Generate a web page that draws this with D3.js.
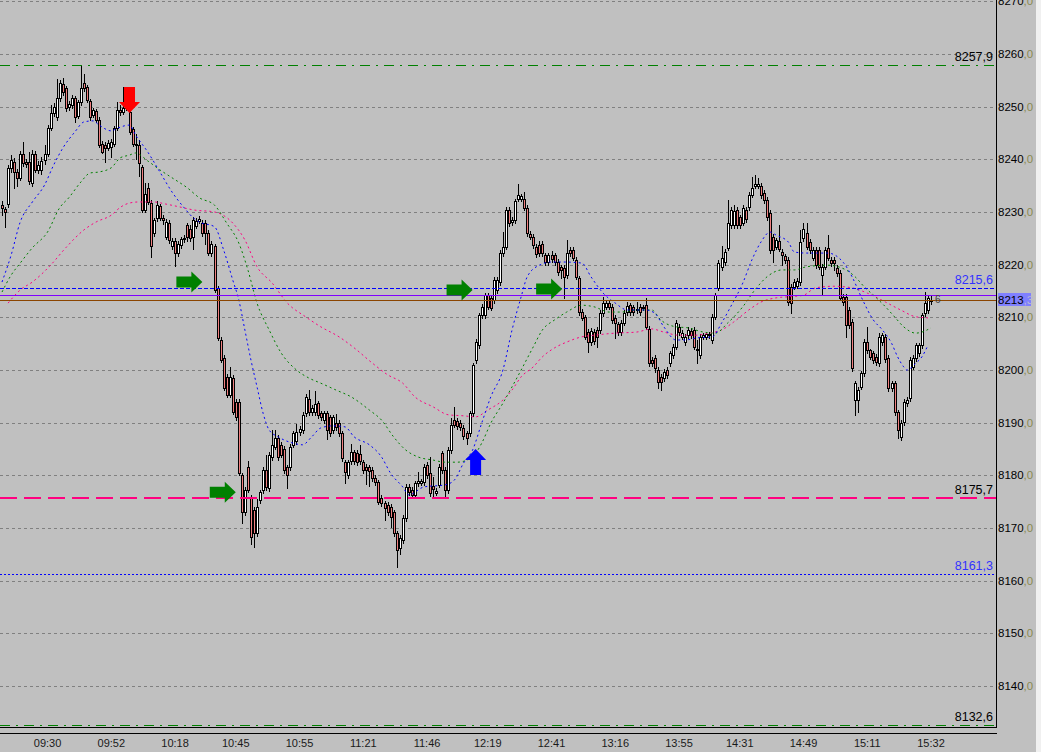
<!DOCTYPE html>
<html><head><meta charset="utf-8">
<script src="https://cdn.jsdelivr.net/npm/d3@7"></script>
<style>html,body{margin:0;padding:0;background:#c0c0c0;overflow:hidden}svg{display:block}</style>
</head><body><svg id="c" width="1041" height="752"></svg>
<script>
// ---------- DATA ----------
const opens = [
8231.4,8230.6,8231.5,8238.3,8239.5,8237.6,8236.5,8241.0,8239.5,8239.5,
8235.5,8241.0,8238.0,8238.0,8239.8,8241.0,8246.0,8248.8,8248.0,8251.6,
8254.3,8253.5,8249.9,8250.3,8251.6,8248.2,8250.8,8254.5,8253.7,8251.0,
8248.5,8249.2,8247.5,8243.0,8242.8,8242.2,8242.4,8243.0,8246.0,8249.3,
8249.0,8251.3,8249.0,8245.8,8243.0,8242.7,8238.5,8230.4,8234.5,8231.7,
8226.0,8228.8,8231.2,8228.9,8225.3,8228.0,8223.5,8224.5,8222.2,8223.7,
8224.8,8227.5,8226.8,8225.2,8227.4,8228.3,8228.0,8228.0,8226.0,8222.2,
8223.5,8215.6,8205.7,8202.3,8198.7,8195.3,8198.5,8194.0,8193.9,8180.0,
8173.0,8181.6,8175.7,8173.5,8169.0,8175.3,8177.2,8181.0,8177.6,8183.5,
8185.4,8187.1,8185.8,8185.0,8181.6,8181.6,8185.8,8186.5,8188.2,8188.6,
8191.8,8194.5,8192.0,8192.0,8193.7,8191.8,8190.5,8191.8,8191.0,8188.6,
8190.0,8190.0,8188.0,8182.5,8180.0,8182.7,8184.4,8184.3,8184.0,8182.5,
8181.6,8181.5,8181.0,8179.5,8178.7,8175.7,8174.7,8174.4,8174.0,8173.0,
8169.0,8166.2,8167.7,8171.9,8177.8,8177.2,8176.3,8178.5,8178.6,8178.7,
8182.0,8180.4,8178.0,8176.7,8178.2,8184.2,8181.0,8177.2,8184.8,8190.5,
8190.3,8190.0,8189.0,8188.0,8188.0,8191.8,8201.9,8204.7,8210.4,8210.4,
8214.2,8213.7,8213.3,8215.2,8216.7,8222.2,8223.4,8230.4,8228.1,8228.5,
8232.5,8232.5,8232.5,8230.8,8225.8,8225.3,8223.4,8223.7,8224.0,8221.8,
8220.5,8221.8,8221.8,8220.5,8219.5,8219.4,8218.0,8222.8,8222.8,8220.9,
8217.4,8211.0,8210.0,8207.2,8205.3,8207.2,8207.6,8207.6,8210.8,8212.0,
8212.7,8212.0,8209.9,8208.7,8207.2,8209.0,8211.0,8212.3,8211.9,8211.5,
8211.9,8211.8,8212.3,8207.8,8201.9,8202.3,8200.0,8198.7,8198.5,8200.0,
8201.3,8202.8,8204.4,8208.2,8206.3,8205.3,8206.6,8207.4,8207.6,8204.0,
8202.8,8206.3,8206.3,8206.6,8205.7,8210.1,8215.6,8219.5,8220.5,8223.2,
8227.5,8227.5,8230.4,8229.0,8228.0,8230.4,8230.9,8233.3,8235.0,8235.0,
8235.0,8233.6,8232.3,8229.8,8225.3,8223.4,8224.5,8222.4,8221.6,8220.9,
8215.8,8215.8,8216.0,8216.7,8225.0,8226.0,8224.3,8221.3,8222.8,8222.8,
8218.0,8219.6,8223.2,8220.9,8220.9,8219.4,8218.4,8213.9,8213.9,8211.4,
8209.1,8194.3,8194.3,8196.8,8199.4,8205.3,8203.8,8203.2,8202.5,8201.3,
8205.3,8206.3,8202.3,8196.6,8197.5,8192.0,8187.3,8190.1,8193.7,8194.7,
8200.6,8202.3,8203.2,8204.7,8210.8,8211.4,8213.3];
const highs = [
8232.0,8230.9,8239.0,8240.8,8240.2,8238.2,8241.5,8243.3,8240.0,8241.3,
8241.8,8241.5,8239.6,8240.4,8242.7,8246.5,8250.3,8250.6,8255.3,8255.0,
8255.5,8254.0,8251.0,8252.2,8252.0,8251.3,8257.7,8256.2,8254.1,8251.5,
8249.8,8249.6,8248.0,8243.4,8243.2,8243.6,8243.8,8246.4,8250.8,8250.3,
8253.7,8252.8,8249.5,8246.2,8244.8,8243.7,8239.0,8235.5,8235.5,8232.2,
8228.9,8232.0,8231.6,8229.4,8228.6,8228.5,8225.0,8225.0,8224.5,8225.3,
8225.6,8228.0,8227.5,8229.0,8228.8,8229.2,8228.5,8228.4,8226.5,8224.5,
8224.0,8216.0,8206.2,8202.8,8199.2,8200.6,8199.0,8194.5,8194.4,8180.5,
8177.7,8182.8,8176.2,8174.0,8175.5,8177.3,8181.5,8183.9,8184.4,8188.6,
8188.6,8187.6,8186.3,8185.5,8182.0,8185.9,8188.5,8189.8,8189.3,8192.0,
8195.4,8196.2,8193.3,8196.0,8194.2,8192.3,8192.3,8192.3,8191.5,8191.5,
8191.6,8190.5,8188.5,8183.0,8183.0,8186.0,8184.9,8184.8,8185.8,8183.0,
8182.1,8182.0,8181.5,8180.0,8179.2,8176.2,8175.2,8174.9,8174.5,8173.5,
8169.5,8168.6,8172.4,8178.3,8178.3,8177.7,8179.0,8180.6,8179.4,8182.1,
8182.5,8183.4,8179.6,8177.6,8182.1,8184.7,8181.5,8185.3,8190.8,8192.9,
8190.8,8190.5,8189.5,8188.5,8192.3,8201.4,8205.8,8210.9,8212.5,8214.7,
8214.7,8214.2,8217.6,8217.6,8222.7,8226.2,8230.9,8230.9,8229.0,8232.5,
8235.3,8233.5,8233.8,8231.3,8226.3,8225.8,8223.9,8224.5,8224.5,8222.3,
8222.3,8222.5,8222.3,8221.0,8220.0,8219.9,8224.7,8223.3,8223.3,8221.4,
8217.9,8211.5,8210.5,8207.7,8207.9,8207.7,8208.1,8211.3,8213.9,8213.2,
8213.2,8212.5,8210.4,8209.2,8209.4,8211.3,8213.0,8212.8,8212.4,8213.0,
8212.6,8212.4,8213.6,8208.3,8202.4,8202.8,8200.5,8199.2,8200.1,8200.5,
8203.7,8204.9,8209.4,8208.7,8207.5,8206.8,8208.1,8207.9,8208.1,8205.7,
8206.8,8207.1,8207.3,8207.3,8210.6,8214.7,8220.8,8223.5,8222.9,8232.2,
8230.9,8231.3,8230.9,8229.5,8231.3,8230.9,8233.7,8236.6,8237.0,8236.4,
8235.5,8234.1,8232.8,8230.3,8225.8,8225.0,8227.5,8222.9,8222.1,8221.4,
8216.3,8217.2,8217.4,8226.6,8227.9,8227.9,8224.8,8223.3,8223.3,8223.3,
8220.1,8223.3,8225.6,8221.4,8221.4,8219.9,8218.9,8214.4,8214.4,8211.9,
8209.6,8198.0,8196.7,8199.9,8205.8,8208.2,8204.0,8203.7,8203.0,8207.0,
8207.0,8206.8,8202.8,8198.0,8198.0,8192.5,8190.5,8194.5,8194.8,8202.4,
8202.8,8205.2,8205.2,8210.9,8214.8,8214.2,8214.0];
const lows = [
8229.5,8227.1,8231.0,8237.5,8234.5,8235.0,8236.0,8238.8,8238.5,8235.3,
8235.0,8237.5,8237.4,8237.3,8239.2,8240.6,8245.5,8248.2,8247.4,8251.0,
8252.3,8249.2,8249.4,8249.8,8247.0,8247.8,8250.3,8253.0,8250.8,8247.5,
8248.0,8247.0,8242.3,8241.2,8239.5,8241.7,8240.5,8242.6,8245.6,8248.5,
8248.6,8249.3,8244.8,8242.6,8240.0,8236.8,8230.0,8230.0,8231.5,8221.5,
8225.5,8228.3,8228.4,8227.8,8224.8,8224.2,8223.0,8219.7,8221.7,8223.2,
8224.3,8224.5,8224.5,8223.0,8226.9,8227.9,8225.5,8224.0,8221.8,8221.7,
8214.8,8205.7,8201.5,8196.2,8194.9,8194.9,8191.6,8190.6,8180.0,8171.0,
8172.5,8176.8,8167.0,8166.4,8168.5,8174.8,8176.7,8177.3,8177.1,8183.0,
8185.0,8183.0,8183.4,8180.5,8177.6,8181.1,8185.3,8186.0,8187.7,8188.1,
8191.3,8191.5,8191.5,8191.5,8190.9,8190.5,8190.0,8186.9,8187.5,8188.1,
8188.7,8187.5,8182.8,8178.6,8179.5,8182.2,8182.2,8182.0,8182.2,8180.5,
8178.3,8178.0,8179.0,8178.2,8174.5,8174.2,8171.5,8172.5,8170.2,8168.5,
8162.6,8165.0,8167.2,8171.4,8176.3,8175.8,8175.8,8178.0,8178.1,8178.2,
8179.5,8176.1,8176.0,8176.2,8177.7,8180.5,8175.9,8176.7,8184.3,8189.1,
8188.8,8188.6,8186.9,8186.0,8187.5,8191.3,8201.4,8204.2,8209.9,8209.9,
8211.5,8211.3,8212.8,8214.7,8216.2,8221.7,8222.9,8227.4,8227.6,8228.0,
8232.0,8232.0,8230.3,8225.5,8224.8,8223.2,8221.5,8221.7,8221.7,8220.0,
8220.0,8220.5,8220.0,8218.1,8217.5,8213.7,8217.5,8221.7,8220.8,8217.2,
8210.5,8209.4,8205.8,8203.4,8204.8,8205.0,8204.4,8207.1,8210.3,8211.5,
8211.5,8209.0,8206.0,8206.7,8206.7,8208.5,8210.5,8210.5,8210.5,8210.8,
8210.5,8211.3,8207.7,8200.8,8200.8,8199.6,8196.6,8196.2,8198.0,8198.5,
8200.8,8202.3,8203.9,8206.7,8205.8,8204.8,8206.1,8206.1,8203.9,8201.4,
8202.3,8205.8,8205.8,8206.1,8205.2,8209.6,8215.1,8219.0,8220.0,8222.7,
8227.0,8227.0,8227.0,8227.0,8227.5,8228.1,8230.4,8232.8,8234.5,8234.5,
8232.7,8231.8,8228.5,8222.3,8220.5,8222.9,8222.5,8220.0,8220.4,8212.4,
8210.8,8215.3,8215.5,8216.2,8224.5,8222.9,8222.3,8220.8,8219.4,8219.1,
8214.2,8219.1,8220.8,8219.8,8219.0,8217.9,8213.2,8212.4,8206.3,8208.0,
8199.9,8191.5,8192.0,8196.3,8198.9,8203.3,8202.0,8201.4,8201.0,8200.8,
8204.8,8201.5,8196.1,8196.1,8191.5,8187.1,8186.8,8189.6,8193.2,8194.2,
8200.1,8201.8,8202.7,8204.2,8210.3,8210.9,8212.6];
const closes = [
8230.7,8230.0,8238.4,8239.9,8237.6,8236.4,8241.0,8239.3,8239.1,8235.9,
8241.0,8238.0,8239.0,8239.7,8241.0,8246.0,8248.8,8249.9,8251.6,8254.5,
8252.8,8249.8,8250.5,8251.6,8248.0,8250.8,8253.5,8253.5,8251.3,8248.0,
8249.3,8247.5,8242.7,8241.4,8242.2,8243.1,8243.3,8246.0,8249.3,8248.9,
8249.7,8249.7,8245.2,8243.0,8242.8,8239.3,8230.4,8233.4,8231.9,8223.5,
8228.5,8231.3,8228.8,8228.5,8228.1,8224.7,8224.5,8222.2,8224.0,8224.8,
8225.1,8225.2,8225.0,8228.5,8228.3,8228.7,8226.0,8226.0,8222.2,8224.0,
8215.2,8206.1,8201.9,8196.6,8195.3,8198.7,8192.0,8191.0,8180.4,8173.0,
8177.2,8177.2,8168.3,8169.0,8174.0,8176.8,8181.0,8177.8,8183.9,8185.8,
8187.1,8183.5,8183.9,8181.0,8180.0,8185.4,8188.0,8188.2,8188.8,8191.5,
8194.9,8192.0,8192.8,8193.5,8191.4,8191.0,8191.8,8188.6,8188.0,8191.0,
8189.2,8188.0,8183.3,8180.6,8182.5,8184.4,8182.7,8182.5,8182.7,8181.0,
8181.0,8180.8,8179.5,8178.7,8175.0,8174.7,8173.8,8173.0,8172.0,8169.0,
8165.8,8168.1,8171.9,8177.8,8176.8,8176.3,8178.5,8178.9,8178.9,8181.6,
8180.0,8176.6,8177.4,8177.1,8181.6,8181.0,8177.2,8184.8,8189.6,8189.6,
8189.3,8189.1,8187.4,8187.0,8191.8,8200.9,8205.3,8210.4,8212.0,8214.2,
8212.0,8211.8,8217.1,8217.1,8222.2,8223.4,8230.4,8227.9,8228.5,8232.0,
8233.3,8233.0,8230.8,8226.0,8225.3,8223.7,8222.0,8222.2,8222.2,8220.5,
8221.8,8221.0,8220.5,8218.6,8219.0,8217.7,8222.2,8222.2,8221.3,8217.7,
8211.0,8209.9,8206.3,8205.3,8207.4,8205.5,8206.3,8210.8,8212.7,8212.7,
8212.0,8209.5,8208.9,8207.2,8208.9,8210.8,8212.1,8211.0,8211.0,8211.3,
8211.0,8211.9,8208.2,8201.3,8201.3,8200.4,8197.7,8197.7,8199.6,8199.0,
8203.2,8204.4,8208.9,8207.2,8207.0,8206.3,8207.6,8206.6,8204.4,8203.8,
8206.3,8206.6,8206.8,8206.8,8210.1,8214.2,8220.3,8221.3,8222.4,8227.9,
8230.4,8230.2,8227.5,8227.5,8230.8,8228.6,8233.2,8234.6,8235.3,8235.3,
8233.2,8232.3,8229.0,8222.8,8222.8,8224.7,8223.0,8221.8,8220.9,8212.9,
8212.7,8216.7,8216.9,8224.3,8226.8,8223.4,8222.8,8222.8,8219.9,8219.6,
8219.6,8222.8,8221.3,8220.3,8220.3,8218.4,8213.7,8212.9,8208.5,8208.5,
8200.4,8197.5,8196.2,8199.4,8205.3,8203.8,8202.5,8201.9,8201.5,8206.3,
8206.6,8202.0,8196.6,8197.5,8192.0,8188.6,8190.0,8194.0,8194.3,8201.9,
8202.3,8204.7,8204.7,8210.4,8212.7,8213.7,8213.3];

const timeLabels = ["09:30","09:52","10:18","10:45","10:55","11:21","11:46","12:19","12:41","13:16","13:55","14:31","14:49","15:11","15:32"];
const timeIdx = [15,36,57,77,98,119,140,160,181,202,223,243,264,285,306];
const priceTicks = [8140,8150,8160,8170,8180,8190,8200,8210,8220,8230,8240,8250,8260,8270];

// moving averages: [candle index, price]
const maFast = [[0,8216.7],[3,8221.8],[6,8228.1],[10,8231.9],[14,8235.1],[17,8238.9],[20,8242.1],[24,8245.2],[27,8247.1],[30,8247.3],[32,8246.5],[36,8245.4],[38,8245.9],[42,8246.5],[44,8244.6],[48,8241.4],[52,8237.6],[56,8233.8],[60,8230.8],[63,8228.9],[65,8228.1],[70,8227.2],[73,8222.8],[76,8217.1],[78,8213.3],[80,8207.6],[82,8201.9],[84,8196.8],[86,8191.8],[88,8188.6],[91,8187.3],[96,8186.1],[99,8185.8],[102,8187.3],[105,8189.0],[109,8189.4],[113,8189.2],[116,8187.3],[121,8185.8],[125,8183.5],[128,8180.4],[132,8177.8],[134,8176.3],[139,8177.8],[146,8178.2],[149,8179.1],[152,8182.3],[155,8184.8],[158,8189.9],[161,8194.9],[165,8200.0],[168,8207.6],[171,8213.9],[173,8217.7],[177,8219.9],[181,8220.5],[185,8220.5],[191,8220.3],[194,8217.7],[198,8214.6],[202,8212.7],[206,8211.4],[212,8211.4],[215,8210.8],[218,8208.2],[222,8205.7],[225,8205.7],[229,8206.1],[234,8206.3],[237,8208.9],[240,8212.0],[244,8216.5],[247,8220.9],[250,8224.3],[253,8226.2],[255,8225.6],[259,8224.3],[261,8222.4],[265,8222.2],[272,8222.2],[277,8220.5],[280,8217.7],[283,8213.9],[287,8209.5],[290,8207.6],[293,8205.1],[295,8202.5],[297,8200.6],[298,8200.0],[301,8201.3],[303,8202.5],[305,8204.7]];
const maMid = [[0,8214.8],[3,8218.0],[6,8220.3],[10,8223.2],[15,8226.2],[19,8230.8],[22,8232.7],[26,8235.7],[29,8237.4],[32,8237.6],[36,8238.4],[39,8240.3],[42,8240.8],[44,8241.2],[48,8239.7],[52,8238.0],[56,8236.5],[61,8234.6],[65,8232.7],[70,8231.3],[74,8227.9],[78,8224.1],[81,8219.0],[84,8212.7],[88,8207.6],[92,8203.2],[97,8200.0],[101,8198.5],[105,8197.5],[110,8196.2],[115,8194.9],[121,8192.4],[125,8190.5],[129,8187.3],[133,8184.8],[137,8183.5],[142,8182.9],[146,8182.5],[150,8182.5],[155,8183.5],[158,8186.1],[161,8189.9],[165,8193.7],[168,8196.8],[171,8200.0],[175,8204.4],[178,8207.6],[182,8209.5],[186,8211.0],[191,8212.3],[195,8212.0],[200,8211.0],[204,8211.0],[209,8211.4],[214,8211.4],[217,8209.5],[222,8208.2],[226,8208.0],[231,8207.2],[235,8207.0],[239,8208.9],[244,8212.0],[248,8215.2],[252,8217.7],[257,8219.0],[261,8219.0],[265,8219.6],[272,8219.9],[278,8219.0],[281,8217.7],[284,8215.8],[288,8213.7],[291,8212.0],[294,8210.1],[297,8208.2],[301,8207.0],[303,8207.2],[306,8208.0]];
const maSlow = [[2,8212.7],[6,8215.2],[10,8216.7],[16,8219.9],[21,8223.2],[27,8226.6],[31,8228.1],[36,8229.4],[39,8230.9],[42,8231.7],[45,8231.9],[50,8231.9],[54,8231.5],[59,8230.9],[63,8230.4],[70,8230.0],[76,8227.9],[80,8224.7],[84,8219.6],[89,8216.5],[94,8212.7],[100,8210.1],[105,8208.2],[111,8206.3],[116,8204.2],[122,8201.3],[127,8199.1],[132,8197.5],[136,8194.9],[142,8193.0],[147,8191.5],[152,8191.3],[156,8191.1],[160,8192.4],[165,8194.3],[168,8196.2],[171,8198.7],[175,8200.6],[178,8202.5],[182,8204.2],[186,8205.3],[191,8206.3],[195,8206.6],[202,8207.0],[209,8207.2],[214,8207.8],[218,8207.2],[223,8206.6],[228,8206.6],[233,8207.0],[237,8207.6],[241,8209.1],[246,8211.4],[250,8212.9],[255,8213.7],[259,8213.9],[264,8214.2],[268,8215.6],[274,8215.9],[280,8215.6],[285,8214.6],[291,8212.9],[296,8211.4],[301,8210.1],[305,8209.9]];

// horizontal levels
const levelValues = [8257.9, 8215.6, 8214.2, 8213.3, 8175.7, 8161.3, 8132.6];
const levelNames  = ["8257,9", "8215,6", "", "", "8175,7", "8161,3", "8132,6"];
const levelKinds  = ["greenDashDot", "blueDash", "purple", "brown", "pinkDash", "blueDot", "greenDashDot"];

// signal arrows: candle index, price at the tip, direction
const signalIdx   = [42, 66, 77, 155, 184.5, 156];
const signalPrice = [8248.8, 8216.7, 8176.8, 8215.2, 8215.4, 8185.0];
const signalDir   = ["down", "right", "right", "right", "right", "up"];

const lastPrice = 8213.3;

// ---------- DRAW ----------
const svg = d3.select("#c");
const FONT = "'Liberation Sans', Arial, sans-serif";
const n = Math.min(opens.length, highs.length, lows.length, closes.length);
const x = d3.scaleLinear().domain([0, 306]).range([2, 931]);
const y = d3.scaleLinear().domain([8130, 8270]).range([738.7, 1.3]);
const plotRight = 996, plotBottom = 727;
const py = v => Math.round(y(v)) + 0.5;

svg.append("rect").attr("width", 1041).attr("height", 752).attr("fill", "#c0c0c0");
svg.append("rect").attr("x", 1036).attr("y", 0).attr("width", 5).attr("height", 752).attr("fill", "#f0f0f0");

svg.append("defs").append("clipPath").attr("id", "plot")
  .append("rect").attr("x", 0).attr("y", 0).attr("width", plotRight).attr("height", plotBottom);

const plot = svg.append("g").attr("clip-path", "url(#plot)");

// grid
plot.append("g").selectAll("line").data(priceTicks).join("line")
  .attr("x1", 0).attr("x2", plotRight)
  .attr("y1", d => py(d)).attr("y2", d => py(d))
  .attr("stroke", "#808080").attr("stroke-width", 1).attr("stroke-dasharray", "3,3")
  .attr("shape-rendering", "crispEdges");

// candles
const cg = plot.append("g").attr("shape-rendering", "crispEdges");
for (let i = 0; i < n; i++) {
  const o = opens[i], h = highs[i], l = lows[i], c = closes[i];
  const cx = Math.round(x(i));
  const yh = Math.round(y(h)), yl = Math.round(y(l));
  cg.append("rect").attr("x", cx).attr("y", yh).attr("width", 1).attr("height", Math.max(1, yl - yh + 1)).attr("fill", "#000");
  const top = Math.round(y(Math.max(o, c))), bot = Math.round(y(Math.min(o, c)));
  const bh = Math.max(2, bot - top + 1);
  cg.append("rect").attr("x", cx - 1).attr("y", top).attr("width", 3).attr("height", bh).attr("fill", "#000");
  if (bh > 2) {
    cg.append("rect").attr("x", cx).attr("y", top + 1).attr("width", 1).attr("height", bh - 2)
      .attr("fill", c >= o ? "#ffffff" : "#f08080");
  }
}

// moving averages
const maLine = d3.line().x(d => x(d[0])).y(d => y(d[1])).curve(d3.curveMonotoneX);
[[maSlow, "#ff0080"], [maMid, "#008000"], [maFast, "#0000ff"]].forEach(([d, col]) => {
  plot.append("path").attr("d", maLine(d)).attr("fill", "none")
    .attr("stroke", col).attr("stroke-width", 1).attr("stroke-dasharray", "2,3");
});

// horizontal levels
const kindStyle = {
  greenDashDot: {c: "#008000", w: 1, dash: "10,6,2,6"},
  blueDash: {c: "#0000ff", w: 1, dash: "4,2"},
  purple: {c: "#8000ff", w: 1, dash: null},
  brown: {c: "#8b4500", w: 1, dash: null},
  pinkDash: {c: "#ff0080", w: 2, dash: "17,7"},
  blueDot: {c: "#0000ff", w: 1, dash: "2,2"}
};
levelValues.forEach((v, i) => {
  const s = kindStyle[levelKinds[i]];
  const yy = s.w === 2 ? Math.round(y(v)) : py(v);
  const ln = plot.append("line").attr("x1", 0).attr("x2", plotRight).attr("y1", yy).attr("y2", yy)
    .attr("stroke", s.c).attr("stroke-width", s.w).attr("shape-rendering", "crispEdges");
  if (s.dash) ln.attr("stroke-dasharray", s.dash);
  if (levelNames[i]) {
    plot.append("text").attr("x", 993).attr("y", Math.round(y(v)) - 4)
      .attr("text-anchor", "end").attr("font-family", FONT).attr("font-size", 12.5)
      .attr("fill", levelKinds[i].startsWith("blue") ? "#3333ff" : "#000")
      .text(levelNames[i]);
  }
});

// signal arrows (shape pointing right, tip at origin)
const arrowShape = "M0,0 L-11,-10.5 L-11,-5.5 L-26,-5.5 L-26,5.5 L-11,5.5 L-11,10.5 Z";
const dirRot = {right: 0, down: 90, up: -90};
const dirCol = {right: "#008000", down: "#ff0000", up: "#0000ff"};
signalIdx.forEach((si, i) => {
  plot.append("path").attr("d", arrowShape)
    .attr("transform", `translate(${x(si)},${y(signalPrice[i])}) rotate(${dirRot[signalDir[i]]})`)
    .attr("fill", dirCol[signalDir[i]]);
});

// small label near last candle
plot.append("text").attr("x", x(n - 1) + 4).attr("y", Math.round(y(lastPrice)) + 3)
  .attr("font-family", FONT).attr("font-size", 10).attr("fill", "#404040").text("6");

// axes frame
svg.append("line").attr("x1", plotRight + 0.5).attr("x2", plotRight + 0.5).attr("y1", 0).attr("y2", plotBottom + 1)
  .attr("stroke", "#000").attr("shape-rendering", "crispEdges");
svg.append("line").attr("x1", 0).attr("x2", plotRight + 1).attr("y1", plotBottom + 0.5).attr("y2", plotBottom + 0.5)
  .attr("stroke", "#000").attr("shape-rendering", "crispEdges");
svg.append("line").attr("x1", 0).attr("x2", plotRight + 1).attr("y1", plotBottom + 6.5).attr("y2", plotBottom + 6.5)
  .attr("stroke", "#000").attr("shape-rendering", "crispEdges");

// price axis labels
const yl = svg.append("g").attr("font-family", FONT).attr("font-size", 11.5);
priceTicks.forEach(v => {
  const t = yl.append("text").attr("x", 998).attr("y", Math.round(y(v)) + 4).attr("fill", "#000");
  t.append("tspan").text(String(v));
  t.append("tspan").attr("fill", "#8a8a50").text(",0");
});

// last price box
const ly = Math.round(y(lastPrice));
svg.append("rect").attr("x", 998).attr("y", ly - 7).attr("width", 33).attr("height", 13).attr("fill", "#8080ff");
const lt = svg.append("text").attr("x", 998).attr("y", ly + 4).attr("font-family", FONT).attr("font-size", 11.5).attr("fill", "#000");
const lpStr = lastPrice.toFixed(1).split(".");
lt.append("tspan").text(lpStr[0]);
lt.append("tspan").attr("fill", "#b8b8d8").text("," + lpStr[1]);

// time axis
svg.append("g").selectAll("text").data(timeLabels).join("text")
  .attr("x", (d, i) => x(timeIdx[i])).attr("y", 747)
  .attr("text-anchor", "middle").attr("font-family", FONT).attr("font-size", 11).attr("fill", "#1a1a1a")
  .text(d => d);
</script>
</body></html>
